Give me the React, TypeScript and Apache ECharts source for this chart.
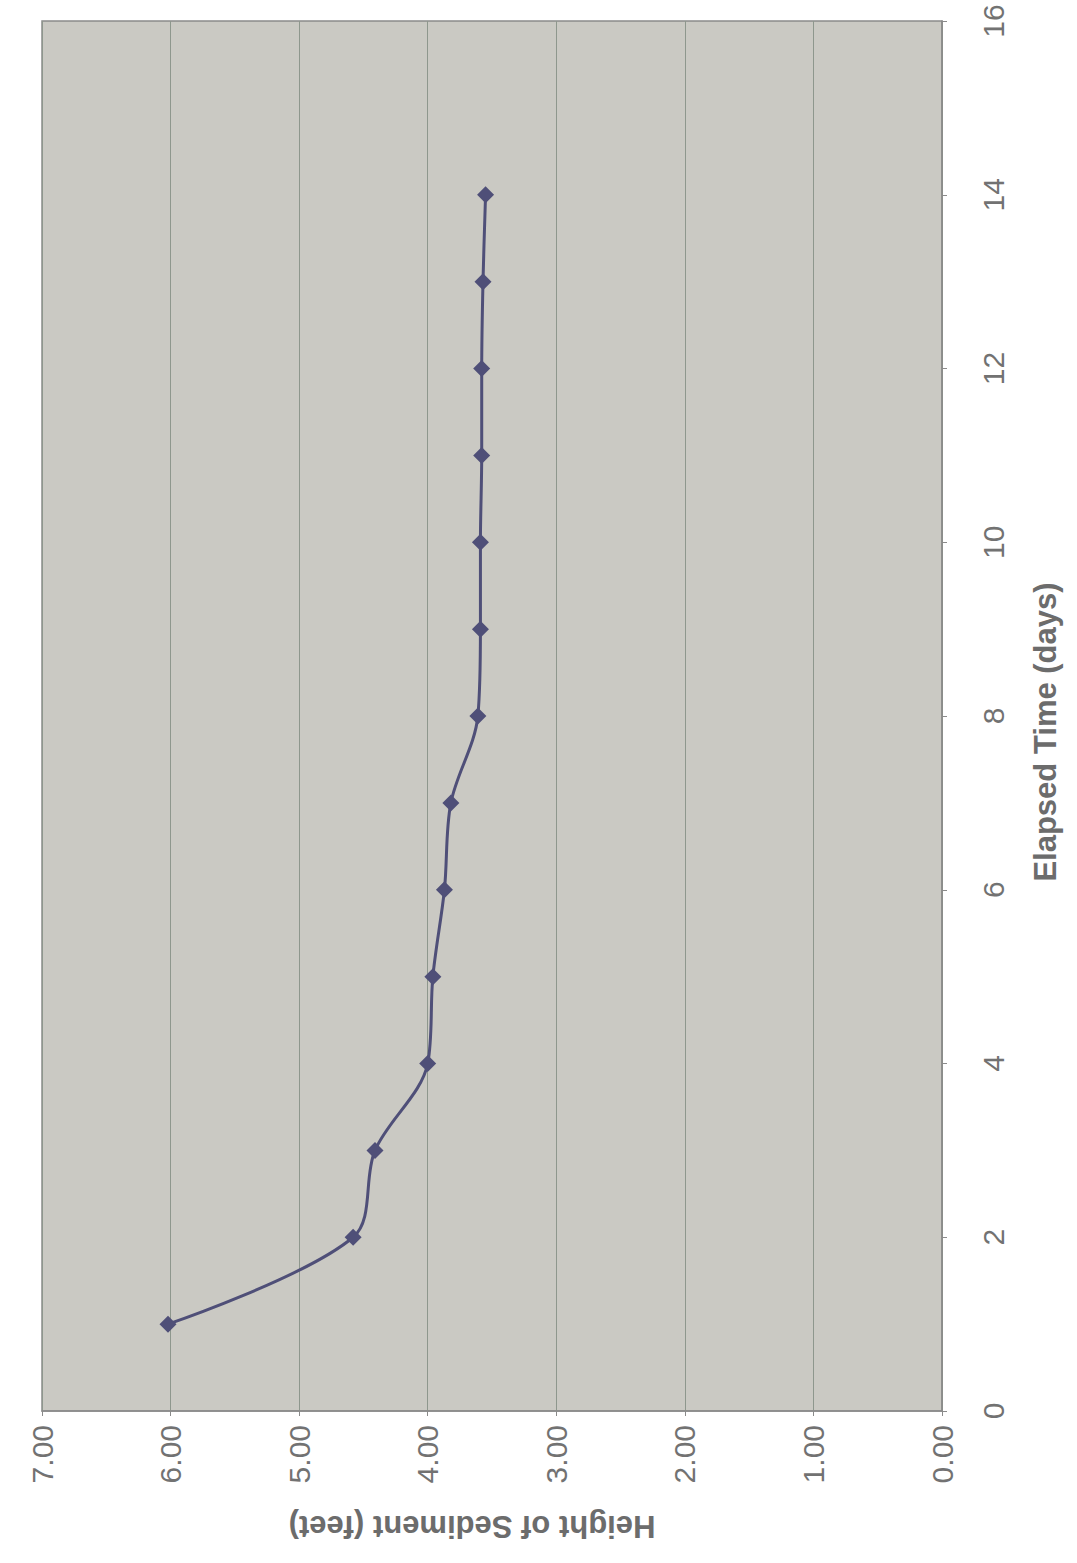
import React, { useEffect, useRef } from "react";
import * as echarts from "echarts";

// Elapsed time (days) for each measurement
const elapsedDays = [1, 2, 3, 4, 5, 6, 7, 8, 9, 10, 11, 12, 13, 14];
// Height of sediment (feet)
const sedimentHeight = [6.02, 4.58, 4.41, 4.0, 3.96, 3.87, 3.82, 3.61, 3.59, 3.59, 3.58, 3.58, 3.57, 3.55];

const heightTitle = "Height of Sediment (feet)";
const timeTitle = "Elapsed Time (days)";

const FONT = '"Liberation Sans", Arial, sans-serif';

export default function App() {
  const ref = useRef<HTMLDivElement>(null);

  useEffect(() => {
    if (!ref.current) return;
    const chart = echarts.init(ref.current, null, { renderer: "svg" });
    const axisGray = "#8a8a8a";
    const labelColor = "#727272";
    chart.setOption({
      animation: false,
      backgroundColor: "#ffffff",
      grid: {
        left: 42,
        right: 135,
        top: 21,
        bottom: 152,
        show: true,
        backgroundColor: "#cac9c3",
        borderColor: axisGray,
        borderWidth: 1.5,
      },
      xAxis: {
        type: "value",
        min: 0,
        max: 7,
        interval: 1,
        inverse: true,
        position: "bottom",
        axisLine: { show: true, lineStyle: { color: axisGray, width: 1.5 } },
        axisTick: { show: true, length: 5, lineStyle: { color: axisGray } },
        axisLabel: {
          rotate: 90,
          margin: 14,
          fontSize: 30,
          color: labelColor,
          fontFamily: FONT,
          formatter: (v: number) => v.toFixed(2),
        },
        splitLine: { show: true, lineStyle: { color: "#8e978d", width: 1 } },
      },
      yAxis: {
        type: "value",
        min: 0,
        max: 16,
        interval: 2,
        position: "right",
        axisLine: { show: true, lineStyle: { color: axisGray, width: 1.5 } },
        axisTick: { show: true, length: 5, lineStyle: { color: axisGray } },
        axisLabel: {
          rotate: 90,
          margin: 36,
          fontSize: 30,
          color: labelColor,
          fontFamily: FONT,
        },
        splitLine: { show: false },
      },
      series: [
        {
          type: "line",
          data: elapsedDays.map((t, i) => [sedimentHeight[i], t]),
          smooth: 0.33,
          symbol: "diamond",
          symbolSize: 17,
          lineStyle: { color: "#4f4f78", width: 3 },
          itemStyle: { color: "#4f4f78" },
        },
      ],
      graphic: [
        {
          type: "text",
          x: 472,
          y: 1526,
          rotation: Math.PI,
          style: {
            text: heightTitle,
            font: `bold 31px ${FONT}`,
            fill: "#6c6c6c",
            textAlign: "center",
            textVerticalAlign: "middle",
            align: "center",
            verticalAlign: "middle",
          },
        },
        {
          type: "text",
          x: 1045,
          y: 732,
          rotation: Math.PI / 2,
          style: {
            text: timeTitle,
            font: `bold 31px ${FONT}`,
            fill: "#6c6c6c",
            textAlign: "center",
            textVerticalAlign: "middle",
            align: "center",
            verticalAlign: "middle",
          },
        },
      ],
    });
    return () => chart.dispose();
  }, []);

  return (
    <div
      ref={ref}
      style={{ position: "fixed", left: 0, top: 0, width: 1077, height: 1563 }}
    />
  );
}
